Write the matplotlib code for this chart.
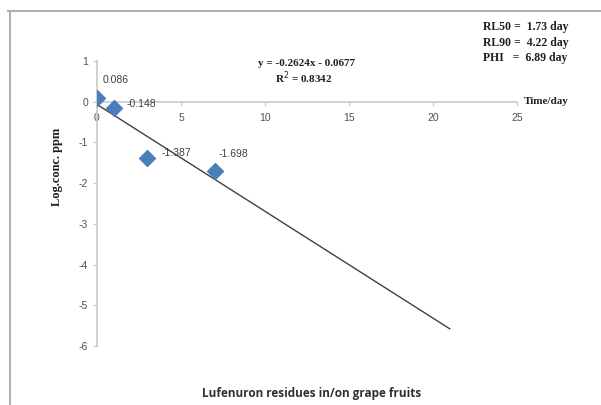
import numpy as np
import matplotlib.pyplot as plt
from matplotlib.lines import Line2D

plt.rcParams['axes.unicode_minus'] = False

# data
days = [0, 1, 3, 7]
log_conc = [0.086, -0.148, -1.387, -1.698]
point_labels = ['0.086', '-0.148', '-1.387', '-1.698']
slope = -0.2624
intercept = -0.0677
trend_end = 21
x_ticks = [0, 5, 10, 15, 20, 25]
y_ticks = [1, 0, -1, -2, -3, -4, -5, -6]
stats_text = 'RL50 =  1.73 day\nRL90 =  4.22 day\nPHI   =  6.89 day'

fig = plt.figure(figsize=(6.01, 4.05), dpi=100)
ax = fig.add_axes([97/601, 1-346/405, 420/601, 285/405])

# trendline
tx = np.array([0, trend_end])
ax.plot(tx, slope*tx + intercept, color='#404040', lw=1.0, zorder=2)
ax.scatter(days, log_conc, marker='D', s=65, color='#4a7ebb', zorder=3)

offsets = [(4, 13), (9, 3), (10, 4), (3, 12)]
for x, y, lab, off in zip(days, log_conc, point_labels, offsets):
    ax.annotate(lab, (x, y), xytext=off, textcoords='offset points',
                fontsize=7.5, color='#404040', family='Liberation Sans', va='center')

ax.set_xlim(0, 25)
ax.set_ylim(-6, 1)
ax.set_xticks(x_ticks)
ax.set_yticks(y_ticks)
ax.spines['top'].set_visible(False)
ax.spines['right'].set_visible(False)
ax.spines['bottom'].set_position(('data', 0))
for s in ['left', 'bottom']:
    ax.spines[s].set_color('#c8c8c8')
    ax.spines[s].set_linewidth(1.2)
ax.tick_params(colors='#c8c8c8', labelcolor='#505050', labelsize=7.5, length=3)
ax.tick_params(axis='x', pad=5)
for t in ax.get_xticklabels() + ax.get_yticklabels():
    t.set_family('Liberation Sans')

ax.text(25.4, 0, 'Time/day', fontsize=8, fontweight='bold', family='Liberation Serif',
        va='center', ha='left', color='#202020')
ax.set_ylabel('Log.conc. ppm', fontsize=9, fontweight='bold', family='Liberation Serif',
              color='#202020')
ax.yaxis.set_label_coords(-0.08, 0.63)

fig.text(306/601, 1-63/405, 'y = -0.2624x - 0.0677', fontsize=8, fontweight='bold',
         family='Liberation Serif', ha='center', va='center', color='#202020')
fig.text(304/601, 1-78/405, 'R$^2$ = 0.8342', fontsize=8, fontweight='bold',
         family='Liberation Serif', ha='center', va='center', color='#202020')
fig.text(483/601, 1-21/405, stats_text, fontsize=8.5, fontweight='bold',
         family='Liberation Serif', ha='left', va='top', color='#202020', linespacing=1.4)
fig.text(312/601, 1-394/405, 'Lufenuron residues in/on grape fruits', fontsize=8.5,
         fontweight='bold', family='Open Sans', ha='center', va='center', color='#303030')

# outer frame of the chart area
fig.add_artist(Line2D([8/601, 1], [1-11/405, 1-11/405], color='#b0b0b0', lw=1.5))
fig.add_artist(Line2D([10/601, 10/601], [0, 1-11/405], color='#b0b0b0', lw=1.5))

plt.savefig('out.png')
